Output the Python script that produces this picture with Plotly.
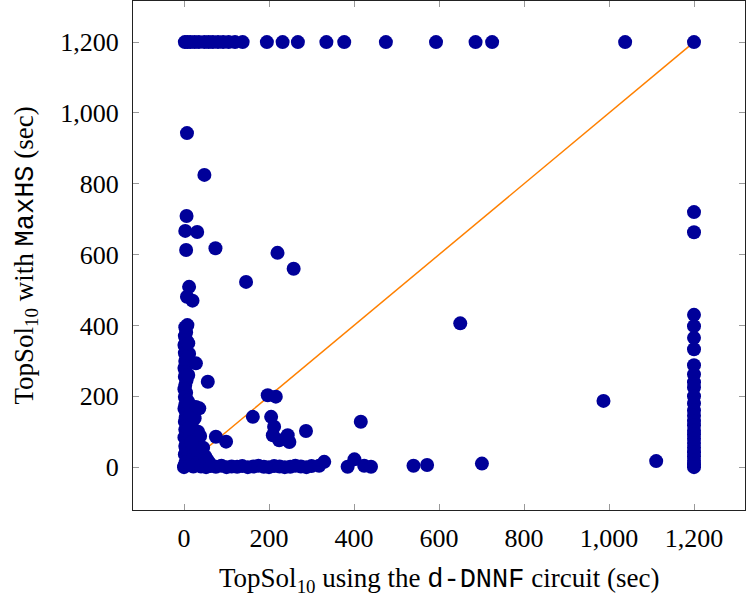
import plotly.graph_objects as go

# runs that timed out under MaxHS (y = 1200)
top_x = [2, 8, 15, 25, 35, 48, 58, 68, 80, 92, 105, 120, 138,
         195, 232, 268, 335, 377, 475, 593, 686, 725, 1038, 1200]
top_y = [1200] * len(top_x)

# runs that timed out with the d-DNNF circuit (x = 1200)
right_y = [720, 663, 430, 398, 365, 333, 288, 262, 240, 225, 200, 180, 160,
           145, 130, 118, 103, 92, 80, 68, 55, 42, 30, 18, 8, 0]
right_x = [1200] * len(right_y)

# scattered instances
mid_x = [7, 48, 6, 3, 31, 5, 74, 220, 258, 146, 12, 7, 20, 8, 28, 56, 36, 75, 99,
         197, 216, 162, 205, 212, 209, 224, 244, 248, 287, 416, 650, 987, 1111,
         330, 401, 701]
mid_y = [943, 825, 709, 667, 664, 613, 618, 605, 560, 523, 509, 481, 470, 401, 293,
         241, 166, 86, 72, 203, 199, 142, 142, 114, 90, 76, 90, 71, 102, 128, 406,
         187, 17, 15, 22, 10]

# instances solved fast by MaxHS (bottom row)
bottom_x = [40, 52, 63, 75, 88, 100, 112, 125, 137, 150, 163, 175, 188, 200, 212,
            225, 237, 250, 262, 275, 288, 300, 318, 385, 424, 440, 540, 572]
bottom_y = [2, 0, 3, 1, 4, 0, 2, 1, 3, 0, 2, 4, 1, 0, 3, 2, 0, 1, 4, 2, 0, 3, 4, 1,
            4, 1, 4, 6]

# instances solved fast by the circuit (left column)
left_x = [3, 5, 2, 6, 1, 4, 2, 7, 3, 5, 1, 4, 2, 6, 3, 1, 5, 2, 8, 3, 1, 6, 4, 2,
          9, 3, 5, 1, 7, 3, 5, 2, 8, 4, 1, 12, 15, 18, 14, 22, 25, 30, 20, 35, 45,
          10, 12, 10, 28, 25, 33, 38, 40, 50, 55, 60, 30, 45, 0, 15, 22, 18, 10]
left_y = [395, 380, 370, 358, 345, 335, 322, 312, 300, 290, 280, 268, 255, 245,
          232, 220, 210, 198, 188, 176, 165, 152, 140, 128, 118, 106, 95, 84, 72,
          60, 48, 36, 25, 14, 4, 180, 150, 120, 95, 60, 45, 30, 20, 10, 8, 260,
          320, 350, 170, 138, 100, 88, 40, 30, 20, 12, 50, 55, 0, 5, 2, 70, 110]

diag = [0, 1200]

all_x = left_x + bottom_x + mid_x + top_x + right_x
all_y = left_y + bottom_y + mid_y + top_y + right_y

serif = "Liberation Serif"
mono = "Liberation Mono"

fig = go.Figure()

fig.add_trace(go.Scatter(x=diag, y=diag, mode="lines",
                         line=dict(color="#ff8000", width=1.5),
                         hoverinfo="skip", showlegend=False))

fig.add_trace(go.Scatter(x=all_x, y=all_y, mode="markers",
                         marker=dict(color="#000099", size=14, line=dict(width=0)),
                         showlegend=False))

axis_style = dict(
    showgrid=False, zeroline=False, automargin=False,
    showline=True, linecolor="#222222", linewidth=1, mirror="ticks",
    ticks="inside", ticklen=6, tickcolor="#999999", tickwidth=1,
    tick0=0, dtick=200, tickformat=",",
    tickfont=dict(family=serif, size=26, color="black"),
)

fig.update_xaxes(**axis_style, range=[-120, 1320], ticklabelstandoff=5)
fig.update_yaxes(**axis_style, range=[-121, 1316], ticklabelstandoff=8)

# axis titles placed by hand
fig.add_annotation(
    text=f"TopSol<sub>10</sub> using the <span style='font-family:{mono}'>d-DNNF</span> circuit (sec)",
    xref="paper", yref="paper", x=0.5, y=0, yanchor="middle", yshift=-70,
    showarrow=False, font=dict(family=serif, size=27, color="black"))
fig.add_annotation(
    text=f"TopSol<sub>10</sub> with <span style='font-family:{mono}'>MaxHS</span> (sec)",
    xref="paper", yref="paper", x=0, y=0.5, xanchor="center", xshift=-108,
    textangle=-90, showarrow=False, font=dict(family=serif, size=27, color="black"))

fig.update_layout(
    width=746, height=604,
    margin=dict(l=133, r=1, t=1, b=94),
    plot_bgcolor="white", paper_bgcolor="white",
)

# drop the browser's default page margin so the figure sits at the corner
fig.write_html("out.html", config={"displayModeBar": False},
               post_script="document.body.style.margin='0';")
